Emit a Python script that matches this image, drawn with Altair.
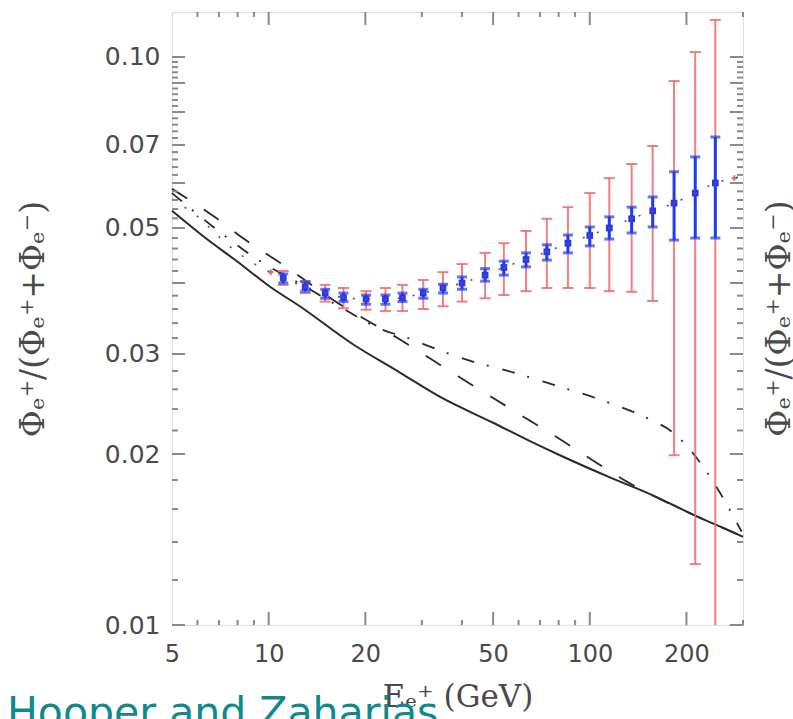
import altair as alt
import pandas as pd

# Axis ranges
X_DOMAIN = [5, 300]
Y_DOMAIN = [0.01, 0.12]

# Tick label values
x_labels = [5, 10, 20, 50, 100, 200]
y_labels = [0.01, 0.02, 0.03, 0.05, 0.07, 0.10]

# Inward tick positions (log axes)
x_major = [10, 20, 50, 100, 200]
x_minor = [6, 7, 8, 9, 30, 40, 60, 70, 80, 90, 300]
y_major = [0.01, 0.02, 0.03, 0.04, 0.05, 0.06, 0.07, 0.08, 0.09, 0.10]
y_minor = [round(0.002 * k, 3) for k in range(6, 50) if k % 5 != 0]

# Binned positron fraction measurements
energy = [11.1, 13.0, 15.0, 17.1, 20.1, 23.1, 26.1, 30.3, 34.9, 40.0, 47.2,
          54.0, 63.3, 73.5, 85.5, 100, 115, 135, 157, 183, 213, 246]
fraction = [0.0408, 0.0394, 0.0384, 0.0377, 0.0375, 0.0375, 0.0377, 0.0384,
            0.0392, 0.0400, 0.0413, 0.0426, 0.0440, 0.0454, 0.0470, 0.0485,
            0.0500, 0.0519, 0.0536, 0.0553, 0.0576, 0.0600]
blue_lo = [0.0400, 0.0387, 0.0376, 0.0371, 0.0367, 0.0367, 0.0371, 0.0376,
           0.0384, 0.0390, 0.0403, 0.0413, 0.0427, 0.0439, 0.0452, 0.0465,
           0.0478, 0.0490, 0.0502, 0.0476, 0.0480, 0.0480]
blue_hi = [0.0415, 0.0402, 0.0390, 0.0384, 0.0381, 0.0381, 0.0384, 0.0390,
           0.0398, 0.0410, 0.0424, 0.0437, 0.0452, 0.0467, 0.0486, 0.0502,
           0.0523, 0.0544, 0.0567, 0.0628, 0.0667, 0.0723]
red_lo = [0.0397, 0.0384, 0.0371, 0.0361, 0.0359, 0.0357, 0.0357, 0.0360,
          0.0364, 0.0371, 0.0376, 0.0381, 0.0387, 0.0392, 0.0392, 0.0392,
          0.0387, 0.0386, 0.0372, 0.0199, 0.0128, 0.0085]
red_hi = [0.0420, 0.0403, 0.0397, 0.0392, 0.0387, 0.0392, 0.0397, 0.0405,
          0.0418, 0.0432, 0.0452, 0.0470, 0.0494, 0.0519, 0.0544, 0.0576,
          0.0612, 0.0648, 0.0697, 0.0907, 0.1020, 0.1162]

# Model curves
solid_e = [5, 6.3, 8, 10.1, 12.6, 18, 25.7, 34.2, 50, 63.7, 80.7, 118, 154, 212, 292, 300]
solid_v = [0.0536, 0.0482, 0.0436, 0.0394, 0.0363, 0.0314, 0.0278, 0.0252, 0.0227,
           0.0212, 0.0199, 0.0181, 0.0170, 0.0156, 0.0144, 0.0143]

dash_e = [5, 6.85, 8.48, 11.0, 16.4, 25.2, 38.9, 50, 64.2, 79, 102, 130, 154, 212, 292, 300]
dash_v = [0.0586, 0.0521, 0.0476, 0.0432, 0.0369, 0.0320, 0.0274, 0.0251, 0.0230,
          0.0214, 0.0195, 0.0179, 0.0170, 0.0156, 0.0144, 0.0143]

dashdot_e = [5, 7.04, 9.18, 12.6, 16.7, 22.3, 27.6, 31.8, 44.0, 54.5, 76.8, 113,
             154, 180, 200, 209, 248, 297]
dashdot_v = [0.0576, 0.0492, 0.0441, 0.0398, 0.0363, 0.0332, 0.0319, 0.0309, 0.0290,
             0.0281, 0.0265, 0.0247, 0.0230, 0.0219, 0.0207, 0.0201, 0.0175, 0.0146]

dot_e = [5, 6.02, 7.46, 9.24] + energy + [282, 300]
dot_v = [0.0562, 0.0523, 0.0467, 0.0429] + fraction + [0.0612, 0.0618]

# Red end markers of the dotted curve
red_mark_e = [10.15, 282]
red_mark_v = [0.0418, 0.0612]

Y_TITLE = "Φₑ⁺/(Φₑ⁺+Φₑ⁻)"
X_TITLE = "Eₑ⁺  (GeV)"
CREDIT = ["Hooper and Zaharias"]

W, H = 571, 613
TICK_GRAY = "#8a8a8a"
LABEL_GRAY = "#4a4a4a"

xs = alt.Scale(type="log", domain=X_DOMAIN, nice=False)
ys = alt.Scale(type="log", domain=Y_DOMAIN, nice=False)

# One axis definition, shared by every layer so the merged axes agree
x_axis = alt.Axis(
    orient="bottom", values=x_labels, format="d", ticks=False, domain=False,
    grid=False, labelFont="DejaVu Sans", labelFontSize=24, labelColor=LABEL_GRAY,
    labelPadding=17, labelFlush=False, labelOverlap=False,
    title=X_TITLE, titleFont="DejaVu Serif", titleFontSize=31,
    titleFontWeight="normal", titleColor=LABEL_GRAY,
    titleX=W / 2, titleY=72, titleAlign="center", titleBaseline="middle",
)
y_axis = alt.Axis(
    orient="left", values=y_labels, format=".2f", ticks=False, domain=False,
    grid=False, labelFont="DejaVu Sans", labelFontSize=25, labelColor=LABEL_GRAY,
    labelPadding=12, labelFlush=False, labelOverlap=False,
    title=Y_TITLE, titleFont="DejaVu Serif", titleFontSize=33,
    titleFontWeight="normal", titleColor=LABEL_GRAY,
    titleX=-139, titleY=H / 2, titleAngle=270,
    titleAlign="center", titleBaseline="middle",
)


def X(field="E"):
    return alt.X(f"{field}:Q", scale=xs, axis=x_axis)


def Y(field="v"):
    return alt.Y(f"{field}:Q", scale=ys, axis=y_axis)


# --- model curves ---
solid = alt.Chart(pd.DataFrame({"E": solid_e, "v": solid_v})).mark_line(
    color="#2a2a2a", strokeWidth=2, interpolate="monotone"
).encode(x=X(), y=Y())
dashed = alt.Chart(pd.DataFrame({"E": dash_e, "v": dash_v})).mark_line(
    color="#2a2a2a", strokeWidth=1.8, strokeDash=[18, 20], interpolate="monotone"
).encode(x=X(), y=Y())
dashdot = alt.Chart(pd.DataFrame({"E": dashdot_e, "v": dashdot_v})).mark_line(
    color="#2a2a2a", strokeWidth=1.8, strokeDash=[13, 13, 2, 14], interpolate="monotone"
).encode(x=X(), y=Y())
dotted = alt.Chart(pd.DataFrame({"E": dot_e, "v": dot_v})).mark_line(
    color="#555555", strokeWidth=1.6, strokeDash=[2, 13], interpolate="monotone"
).encode(x=X(), y=Y())

# --- error bars ---
pts = pd.DataFrame({"E": energy, "v": fraction, "blo": blue_lo, "bhi": blue_hi,
                    "rlo": red_lo, "rhi": red_hi})
base = alt.Chart(pts)
RED = "#ec6a6a"
BLUE = "#1f3cf0"
red_bar = base.mark_rule(color=RED, strokeWidth=2, opacity=0.85, clip=True).encode(
    x=X(), y=Y("rlo"), y2="rhi:Q")
red_cap_hi = base.mark_tick(color=RED, orient="horizontal", size=11, thickness=2,
                            opacity=0.85).encode(x=X(), y=Y("rhi"))
red_cap_lo = base.mark_tick(color=RED, orient="horizontal", size=11, thickness=2,
                            opacity=0.85, clip=True).encode(x=X(), y=Y("rlo"))
blue_bar = base.mark_rule(color=BLUE, strokeWidth=3).encode(
    x=X(), y=Y("blo"), y2="bhi:Q")
blue_cap_hi = base.mark_tick(color=BLUE, orient="horizontal", size=10,
                             thickness=3).encode(x=X(), y=Y("bhi"))
blue_cap_lo = base.mark_tick(color=BLUE, orient="horizontal", size=10,
                             thickness=3).encode(x=X(), y=Y("blo"))
centers = base.mark_square(color=BLUE, size=45, opacity=1).encode(x=X(), y=Y())
center_dot = base.mark_square(color="#a0306a", size=8).encode(x=X(), y=Y())
red_marks = alt.Chart(pd.DataFrame({"E": red_mark_e, "v": red_mark_v})).mark_point(
    shape="cross", filled=True, color="#e03030", size=30
).encode(x=X(), y=Y())

# --- inward ticks on all four sides ---
xmaj = alt.Chart(pd.DataFrame({"E": x_major}))
xmin = alt.Chart(pd.DataFrame({"E": x_minor}))
ymaj = alt.Chart(pd.DataFrame({"v": y_major}))
ymin = alt.Chart(pd.DataFrame({"v": y_minor}))
tick_style = dict(color=TICK_GRAY, strokeWidth=2)
ticks = [
    xmaj.mark_rule(**tick_style).encode(x=X(), y=alt.value(0), y2=alt.value(13)),
    xmaj.mark_rule(**tick_style).encode(x=X(), y=alt.value(H), y2=alt.value(H - 13)),
    xmin.mark_rule(**tick_style).encode(x=X(), y=alt.value(0), y2=alt.value(5)),
    xmin.mark_rule(**tick_style).encode(x=X(), y=alt.value(H), y2=alt.value(H - 5)),
    ymaj.mark_rule(**tick_style).encode(y=Y(), x=alt.value(0), x2=alt.value(13)),
    ymaj.mark_rule(**tick_style).encode(y=Y(), x=alt.value(W), x2=alt.value(W - 13)),
    ymin.mark_rule(**tick_style).encode(y=Y(), x=alt.value(0), x2=alt.value(6)),
    ymin.mark_rule(**tick_style).encode(y=Y(), x=alt.value(W), x2=alt.value(W - 6)),
]

# Second copy of the ratio label on the right edge
right_title = alt.Chart(pd.DataFrame({"label": [Y_TITLE]})).mark_text(
    angle=270, align="center", baseline="middle", font="DejaVu Serif",
    fontSize=33, color=LABEL_GRAY
).encode(x=alt.value(W + 37), y=alt.value(H / 2), text="label:N")

credit = alt.Chart(pd.DataFrame({"label": CREDIT})).mark_text(
    align="left", baseline="alphabetic", font="DejaVu Sans", fontSize=41,
    color="#0f8a8c"
).encode(x=alt.value(-165), y=alt.value(714), text="label:N")

chart = alt.layer(
    solid, dashed, dashdot, dotted,
    red_bar, red_cap_hi, red_cap_lo,
    blue_bar, blue_cap_hi, blue_cap_lo, centers, center_dot, red_marks,
    *ticks, right_title,
    credit,
).properties(
    width=W, height=H,
    autosize=alt.AutoSizeParams(type="none"),
    padding={"left": 172, "top": 12, "right": 50, "bottom": 94},
).configure_view(
    stroke=TICK_GRAY, strokeWidth=2.5
).configure(background="white")

chart.save("out.html", embed_options={"renderer": "svg", "actions": False})
